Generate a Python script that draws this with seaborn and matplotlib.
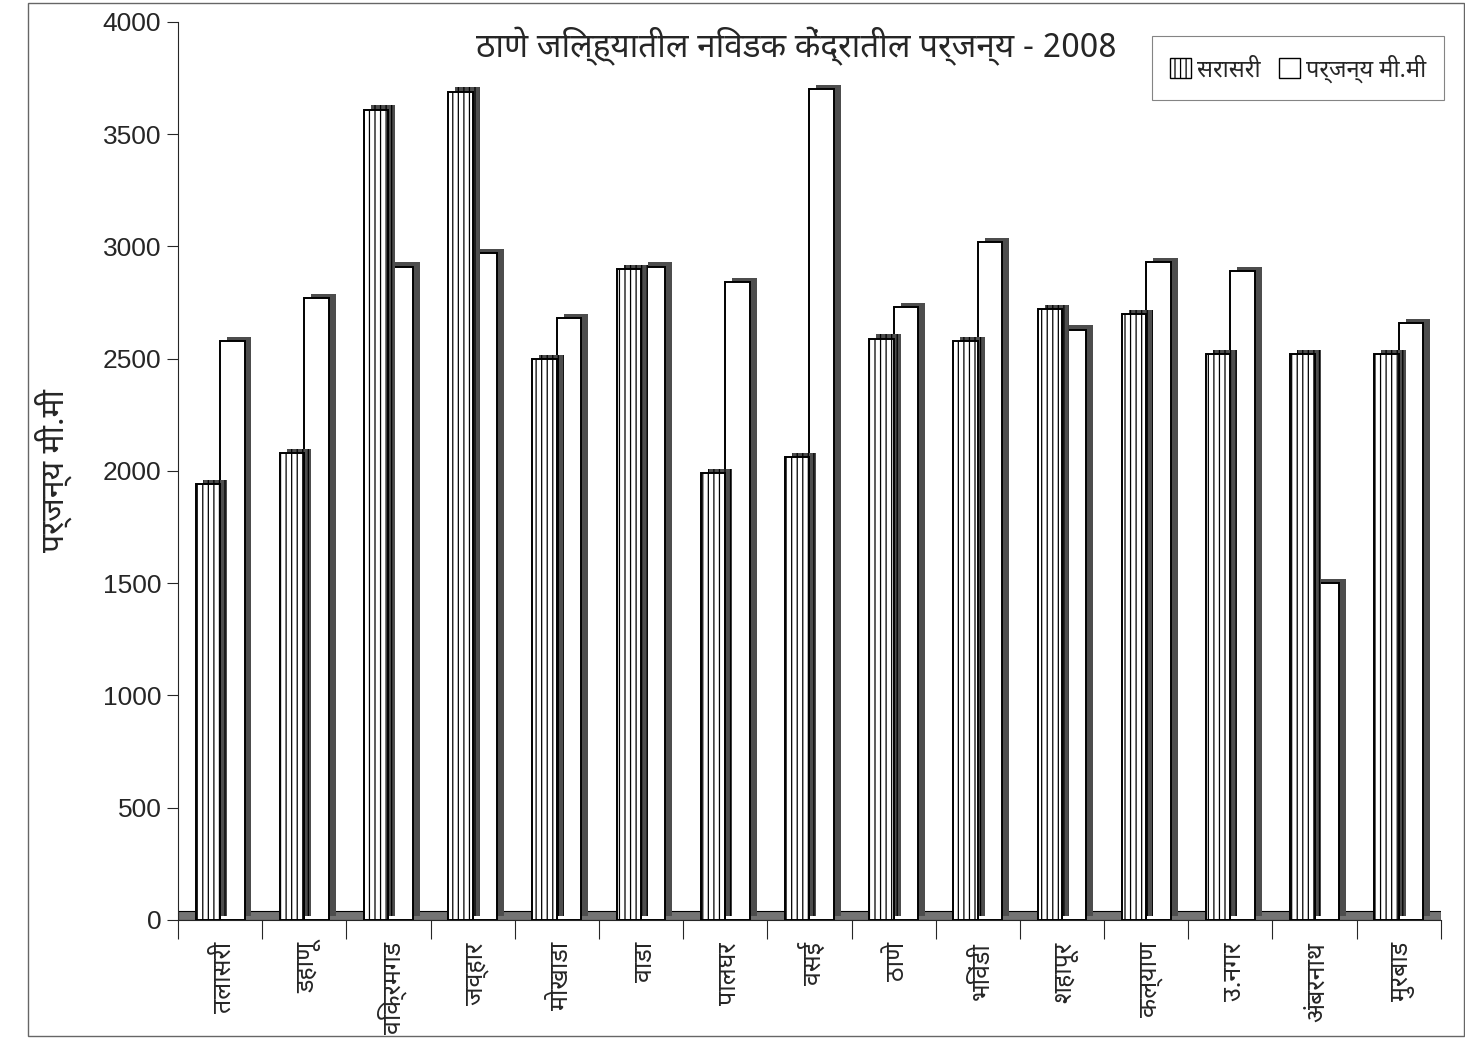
import numpy as np
import pandas as pd
import matplotlib
matplotlib.use('Agg')
import matplotlib.pyplot as plt
import matplotlib.patheffects as pe
from matplotlib.patches import Patch, Rectangle
import seaborn as sns

# data
kendra = ['तलासरी', 'डहाणू', 'विक्रमगड', 'जव्हार', 'मोखाडा', 'वाडा', 'पालघर', 'वसई',
          'ठाणे', 'भिवंडी', 'शहापूर', 'कल्याण', 'उ.नगर', 'अंबरनाथ', 'मुरबाड']
sarasari = [1940, 2080, 3610, 3690, 2500, 2900, 1990, 2060,
            2590, 2580, 2720, 2700, 2520, 2520, 2520]
parjanya = [2580, 2770, 2910, 2970, 2680, 2910, 2840, 3700,
            2730, 3020, 2630, 2930, 2890, 1500, 2660]
series_names = ['सरासरी', 'पर्जन्य मी.मी']
title = 'ठाणे जिल्ह्यातील निवडक केंद्रातील पर्जन्य - 2008'
ylabel = 'पर्जन्य मी.मी'

df = pd.DataFrame({'केंद्र': kendra * 2,
                   'मालिका': [series_names[0]] * len(kendra) + [series_names[1]] * len(kendra),
                   'मूल्य': sarasari + parjanya})

sns.set_style('white')
plt.rcParams['font.family'] = ['Noto Sans Devanagari', 'Lohit Devanagari', 'Liberation Sans', 'DejaVu Sans']
plt.rcParams['hatch.linewidth'] = 0.9

fig = plt.figure(figsize=(14.65, 10.4), dpi=100)
ax = fig.add_axes([0.1215, 0.1154, 0.862, 0.8635])

sns.barplot(data=df, x='केंद्र', y='मूल्य', hue='मालिका', order=kendra,
            hue_order=series_names, palette=['white', 'white'], width=0.58,
            edgecolor='black', linewidth=1.4, legend=False, ax=ax)

for k, cont in enumerate(ax.containers):
    for bar in cont:
        if k == 0:
            bar.set_hatch('|||')
        bar.set_path_effects([pe.SimplePatchShadow(offset=(5, 3), shadow_rgbFace='0.3', alpha=1),
                              pe.Normal()])
        bar.set_zorder(3 if k == 0 else 2)

# gray floor of the 3D-look chart
ax.axhspan(0, 40, facecolor='0.45', edgecolor='black', linewidth=0.8, zorder=1)

n = len(kendra)
ax.set_ylim(0, 4000)
ax.set_xlim(-0.5, n - 0.5)
ax.set_yticks(np.arange(0, 4001, 500))
ax.tick_params(axis='y', labelsize=19, length=8, width=0.8, direction='out', left=True, pad=4)
ax.set_xticks(np.arange(n) + 0.05)
ax.set_xticklabels(kendra, rotation=90, fontsize=18)
ax.tick_params(axis='x', length=0, pad=16)
ax.set_xticks(np.arange(-0.5, n, 1), minor=True)
ax.tick_params(axis='x', which='minor', length=14, width=0.8, direction='out', bottom=True)
for lab in ax.get_yticklabels():
    lab.set_family(['Liberation Sans', 'DejaVu Sans'])

ax.set_xlabel('')
ax.set_ylabel(ylabel, fontsize=23, labelpad=22)
sns.despine(ax=ax, top=True, right=True)
ax.spines['left'].set_linewidth(0.8)
ax.spines['bottom'].set_linewidth(0.8)

ax.text(0.49, 0.995, title, transform=ax.transAxes, ha='center', va='top',
        fontsize=24, fontweight='bold')

handles = [Patch(facecolor='white', edgecolor='black', hatch='|||', label=series_names[0]),
           Patch(facecolor='white', edgecolor='black', label=series_names[1])]
leg = ax.legend(handles=handles, ncol=2, loc='upper right', bbox_to_anchor=(1.012, 0.997),
                fontsize=17, frameon=True, fancybox=False, edgecolor='0.4',
                handlelength=0.9, handleheight=0.9, handletextpad=0.25, columnspacing=0.8,
                borderpad=0.75)
leg.get_frame().set_linewidth(0.8)

fig.patches.append(Rectangle((0.019, 0.004), 0.98, 0.993, transform=fig.transFigure,
                             fill=False, edgecolor='0.4', linewidth=1))

fig.savefig('out.png', dpi=100)
